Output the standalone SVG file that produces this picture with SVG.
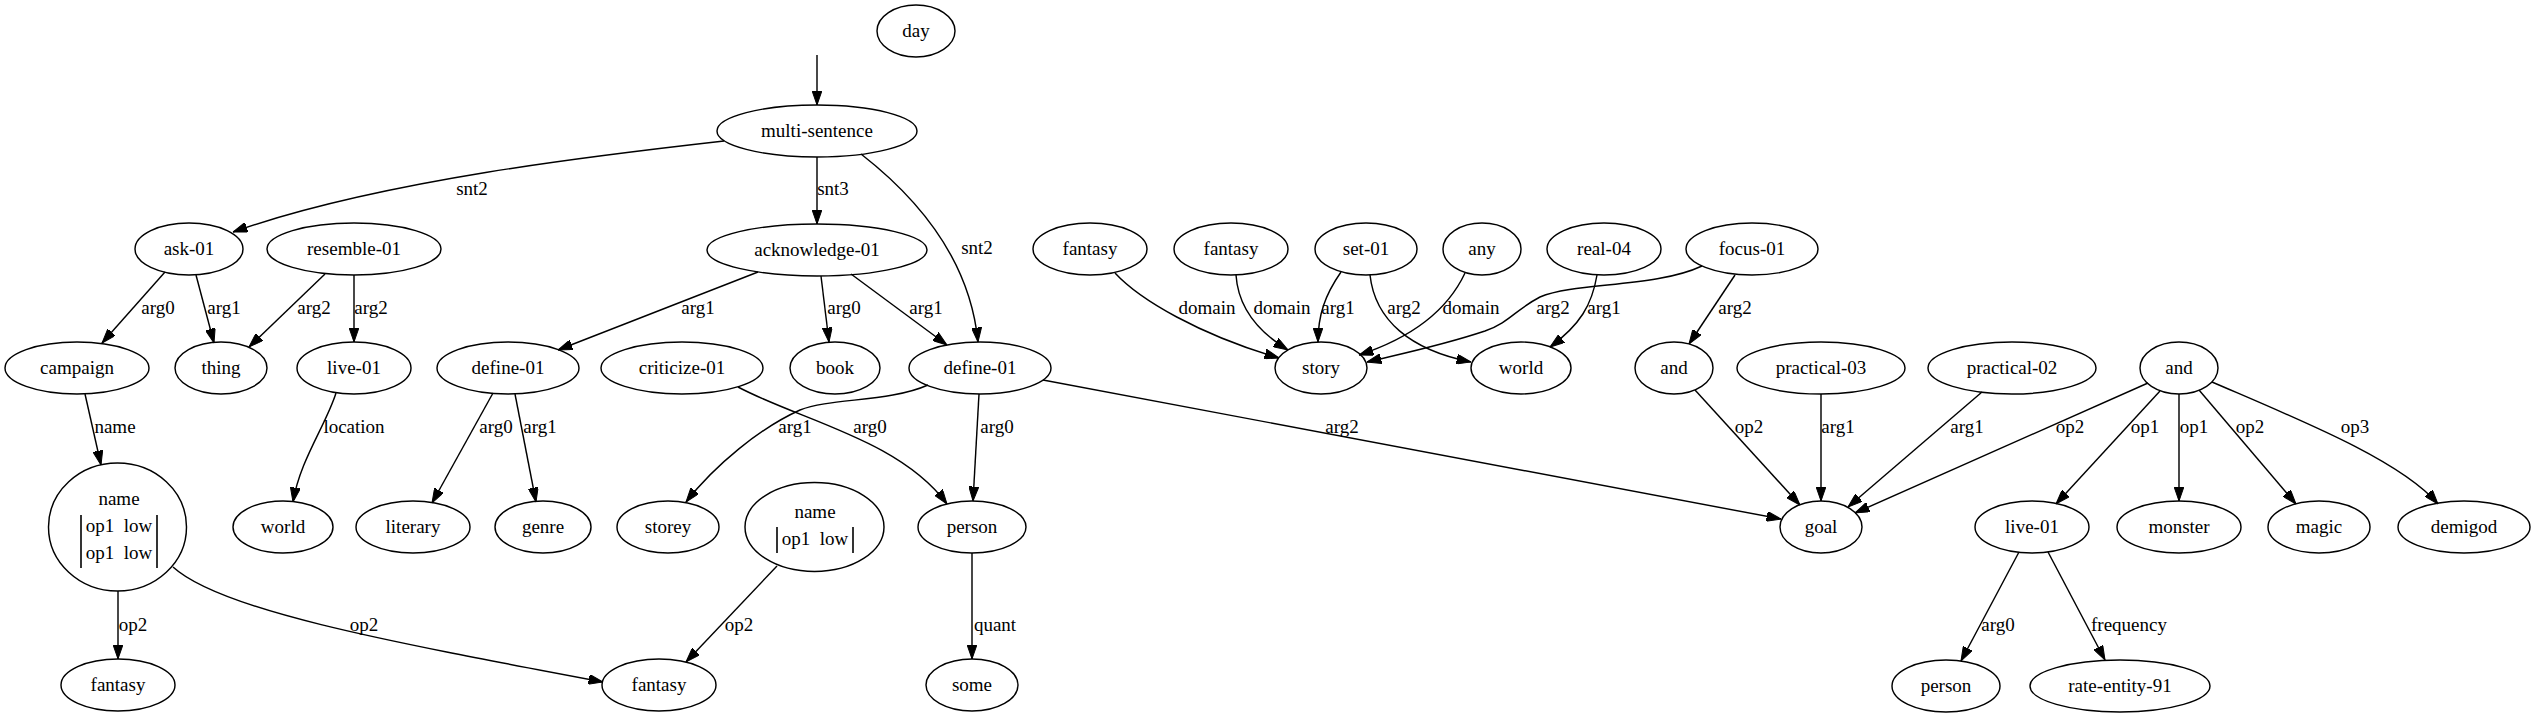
<svg xmlns="http://www.w3.org/2000/svg" width="2534" height="717" viewBox="0 0 2534 717" font-family="'Liberation Serif', 'Times New Roman', Times, serif">
<defs>
<marker id="ah" viewBox="0 0 14.4 10" refX="14.4" refY="5" markerWidth="14.4" markerHeight="10" markerUnits="userSpaceOnUse" orient="auto">
<path d="M0,0 L14.4,5 L0,10 z" fill="#000" stroke="#000" stroke-width="1"/>
</marker>
</defs>
<style>
.n ellipse{fill:none;stroke:#000;stroke-width:1.44}
.n line{stroke:#000;stroke-width:1.6}
text{font-family:'Liberation Serif','Times New Roman',Times,serif;font-size:19px;text-anchor:middle;fill:#000;white-space:pre}
.e path{fill:none;stroke:#000;stroke-width:1.44;marker-end:url(#ah)}
</style>
<rect width="2534" height="717" fill="#fff"/>
<g id="nodes">
<g id="n_day" class="n"><ellipse cx="916" cy="31" rx="39" ry="26"/><text x="916" y="37">day</text></g>
<g id="n_ms" class="n"><ellipse cx="817" cy="131" rx="100" ry="26"/><text x="817" y="137">multi-sentence</text></g>
<g id="n_ask" class="n"><ellipse cx="189" cy="249" rx="54" ry="26"/><text x="189" y="255">ask-01</text></g>
<g id="n_res" class="n"><ellipse cx="354" cy="249" rx="87" ry="26"/><text x="354" y="255">resemble-01</text></g>
<g id="n_ack" class="n"><ellipse cx="817" cy="250" rx="110" ry="26"/><text x="817" y="256">acknowledge-01</text></g>
<g id="n_fan1" class="n"><ellipse cx="1090" cy="249" rx="57" ry="26"/><text x="1090" y="255">fantasy</text></g>
<g id="n_fan2" class="n"><ellipse cx="1231" cy="249" rx="57" ry="26"/><text x="1231" y="255">fantasy</text></g>
<g id="n_set" class="n"><ellipse cx="1366" cy="249" rx="51" ry="26"/><text x="1366" y="255">set-01</text></g>
<g id="n_any" class="n"><ellipse cx="1482" cy="249" rx="39" ry="26"/><text x="1482" y="255">any</text></g>
<g id="n_real" class="n"><ellipse cx="1604" cy="249" rx="57" ry="26"/><text x="1604" y="255">real-04</text></g>
<g id="n_focus" class="n"><ellipse cx="1752" cy="249" rx="66" ry="26"/><text x="1752" y="255">focus-01</text></g>
<g id="n_camp" class="n"><ellipse cx="77" cy="368" rx="72" ry="26"/><text x="77" y="374">campaign</text></g>
<g id="n_thing" class="n"><ellipse cx="221" cy="368" rx="46" ry="26"/><text x="221" y="374">thing</text></g>
<g id="n_live1" class="n"><ellipse cx="354" cy="368" rx="57" ry="26"/><text x="354" y="374">live-01</text></g>
<g id="n_def1" class="n"><ellipse cx="508" cy="368" rx="71" ry="26"/><text x="508" y="374">define-01</text></g>
<g id="n_crit" class="n"><ellipse cx="682" cy="368" rx="81" ry="26"/><text x="682" y="374">criticize-01</text></g>
<g id="n_book" class="n"><ellipse cx="835" cy="368" rx="45" ry="26"/><text x="835" y="374">book</text></g>
<g id="n_def2" class="n"><ellipse cx="980" cy="368" rx="71" ry="26"/><text x="980" y="374">define-01</text></g>
<g id="n_story" class="n"><ellipse cx="1321" cy="368" rx="46" ry="26"/><text x="1321" y="374">story</text></g>
<g id="n_world2" class="n"><ellipse cx="1521" cy="368" rx="50" ry="26"/><text x="1521" y="374">world</text></g>
<g id="n_and1" class="n"><ellipse cx="1674" cy="368" rx="39" ry="26"/><text x="1674" y="374">and</text></g>
<g id="n_prac3" class="n"><ellipse cx="1821" cy="368" rx="84" ry="26"/><text x="1821" y="374">practical-03</text></g>
<g id="n_prac2" class="n"><ellipse cx="2012" cy="368" rx="84" ry="26"/><text x="2012" y="374">practical-02</text></g>
<g id="n_and2" class="n"><ellipse cx="2179" cy="368" rx="39" ry="26"/><text x="2179" y="374">and</text></g>
<g id="n_name1" class="n"><ellipse cx="117.5" cy="527" rx="69" ry="64"/><text x="119" y="505">name</text><line x1="81" y1="515" x2="81" y2="568"/><text x="119" y="532" xml:space="preserve">op1  low</text><text x="119" y="559" xml:space="preserve">op1  low</text><line x1="157" y1="515" x2="157" y2="568"/></g>
<g id="n_world1" class="n"><ellipse cx="283" cy="527" rx="50" ry="26"/><text x="283" y="533">world</text></g>
<g id="n_lit" class="n"><ellipse cx="413" cy="527" rx="57" ry="26"/><text x="413" y="533">literary</text></g>
<g id="n_genre" class="n"><ellipse cx="543" cy="527" rx="48" ry="26"/><text x="543" y="533">genre</text></g>
<g id="n_storey" class="n"><ellipse cx="668" cy="527" rx="51" ry="26"/><text x="668" y="533">storey</text></g>
<g id="n_name2" class="n"><ellipse cx="814.5" cy="527" rx="69.5" ry="44.5"/><text x="815" y="518">name</text><line x1="777" y1="527" x2="777" y2="553"/><text x="815" y="545" xml:space="preserve">op1  low</text><line x1="853" y1="527" x2="853" y2="553"/></g>
<g id="n_person1" class="n"><ellipse cx="972" cy="527" rx="54" ry="26"/><text x="972" y="533">person</text></g>
<g id="n_goal" class="n"><ellipse cx="1821" cy="527" rx="41" ry="26"/><text x="1821" y="533">goal</text></g>
<g id="n_live2" class="n"><ellipse cx="2032" cy="527" rx="57" ry="26"/><text x="2032" y="533">live-01</text></g>
<g id="n_monster" class="n"><ellipse cx="2179" cy="527" rx="62" ry="26"/><text x="2179" y="533">monster</text></g>
<g id="n_magic" class="n"><ellipse cx="2319" cy="527" rx="51" ry="26"/><text x="2319" y="533">magic</text></g>
<g id="n_demigod" class="n"><ellipse cx="2464" cy="527" rx="66" ry="26"/><text x="2464" y="533">demigod</text></g>
<g id="n_fan3" class="n"><ellipse cx="118" cy="685" rx="57" ry="26"/><text x="118" y="691">fantasy</text></g>
<g id="n_fan4" class="n"><ellipse cx="659" cy="685" rx="57" ry="26"/><text x="659" y="691">fantasy</text></g>
<g id="n_some" class="n"><ellipse cx="972" cy="685" rx="46" ry="26"/><text x="972" y="691">some</text></g>
<g id="n_person2" class="n"><ellipse cx="1946" cy="686" rx="54" ry="26"/><text x="1946" y="692">person</text></g>
<g id="n_rate" class="n"><ellipse cx="2120" cy="686" rx="90" ry="26"/><text x="2120" y="692">rate-entity-91</text></g>
</g>
<g id="connectors" class="e">
<path d="M817,55 L817,105"/>
<path d="M724,141 C600,155 380,180 233,232"/><text x="472" y="195">snt2</text>
<path d="M817,157 L817,224"/><text x="833" y="195">snt3</text>
<path d="M861,154 C920,200 970,260 978,342"/><text x="977" y="254">snt2</text>
<path d="M165,272 L102,343"/><text x="158" y="314">arg0</text>
<path d="M196,275 L214,343"/><text x="224" y="314">arg1</text>
<path d="M325,274 L249,347"/><text x="314" y="314">arg2</text>
<path d="M354,275 L354,342"/><text x="371" y="314">arg2</text>
<path d="M758,272 L558,350"/><text x="698" y="314">arg1</text>
<path d="M821,276 L829,342"/><text x="844" y="314">arg0</text>
<path d="M851,274 L947,345"/><text x="926" y="314">arg1</text>
<path d="M85,394 L101,465"/><text x="115" y="433">name</text>
<path d="M336,393 C326,425 300,460 293,502"/><text x="354" y="433">location</text>
<path d="M493,393 L432,503"/><text x="496" y="433">arg0</text>
<path d="M515,394 L536,502"/><text x="540" y="433">arg1</text>
<path d="M928,385 C890,402 830,398 800,410 C760,428 715,465 686,502"/><text x="795" y="433">arg1</text>
<path d="M738,387 C800,420 900,440 947,504"/><text x="870" y="433">arg0</text>
<path d="M979,394 L973,501"/><text x="997" y="433">arg0</text>
<path d="M1043,380 L1781,519"/><text x="1342" y="433">arg2</text>
<path d="M118,591 L118,659"/><text x="133" y="631">op2</text>
<path d="M173,567 C220,610 380,640 603,682"/><text x="364" y="631">op2</text>
<path d="M777,566 L686,662"/><text x="739" y="631">op2</text>
<path d="M972,553 L972,659"/><text x="995" y="631">quant</text>
<path d="M1115,273 C1140,300 1200,335 1279,358"/><text x="1207" y="314">domain</text>
<path d="M1236,275 C1238,305 1255,330 1288,350"/><text x="1282" y="314">domain</text>
<path d="M1341,272 C1325,295 1318,315 1318,342"/><text x="1338" y="314">arg1</text>
<path d="M1370,275 C1375,320 1410,350 1471,362"/><text x="1404" y="314">arg2</text>
<path d="M1465,273 C1450,305 1420,335 1359,355"/><text x="1471" y="314">domain</text>
<path d="M1597,275 C1592,305 1580,325 1550,347"/><text x="1604" y="314">arg1</text>
<path d="M1702,266 C1655,288 1575,282 1540,297 C1515,310 1510,322 1485,331 C1440,346 1400,354 1367,362"/><text x="1553" y="314">arg2</text>
<path d="M1735,275 L1689,344"/><text x="1735" y="314">arg2</text>
<path d="M1695,390 L1800,505"/><text x="1749" y="433">op2</text>
<path d="M1821,394 L1821,501"/><text x="1838" y="433">arg1</text>
<path d="M1982,392 L1848,507"/><text x="1967" y="433">arg1</text>
<path d="M2148,383 L1855,513"/><text x="2070" y="433">op2</text>
<path d="M2160,391 L2056,504"/><text x="2145" y="433">op1</text>
<path d="M2179,394 L2179,501"/><text x="2194" y="433">op1</text>
<path d="M2199,390 L2296,504"/><text x="2250" y="433">op2</text>
<path d="M2212,382 C2300,420 2400,460 2438,504"/><text x="2355" y="433">op3</text>
<path d="M2019,552 L1961,661"/><text x="1998" y="631">arg0</text>
<path d="M2048,552 L2105,660"/><text x="2129" y="631">frequency</text>
</g>
</svg>
